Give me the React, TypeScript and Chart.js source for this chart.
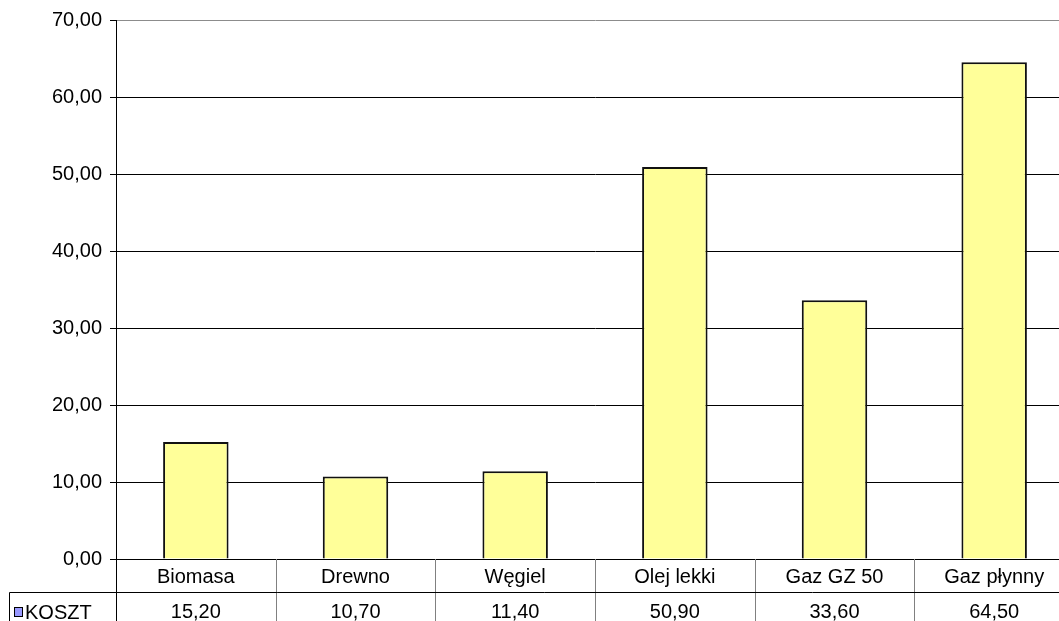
import React, { useEffect, useRef } from "react";
import { Chart, registerables } from "chart.js";

Chart.register(...registerables);

const categories = ["Biomasa", "Drewno", "Węgiel", "Olej lekki", "Gaz GZ 50", "Gaz płynny"];
const seriesName = "KOSZT";
const values = [15.2, 10.7, 11.4, 50.9, 33.6, 64.5];
const yMin = 0;
const yMax = 70;
const yStep = 10;

const FONT = "'Liberation Sans', Arial, sans-serif";
const FONT_SIZE = 20;
const fmt = (v: number) => v.toFixed(2).replace(".", ",");

const tablePlugin = {
  id: "dataTable",
  afterDraw(chart: any) {
    const { ctx, chartArea } = chart;
    const x = chart.scales.x;
    const n = categories.length;
    const w = (chartArea.right - chartArea.left) / n;
    const top = chartArea.bottom;
    const rowLine = top + 33.5;
    const bottom = chart.height;
    ctx.save();
    ctx.lineWidth = 1;
    for (let i = 0; i <= n; i++) {
      const xp = Math.round(chartArea.left + i * w) + 0.5;
      ctx.strokeStyle = i === 0 ? "#000" : "#808080";
      ctx.beginPath();
      ctx.moveTo(xp, top);
      ctx.lineTo(xp, bottom);
      ctx.stroke();
    }
    ctx.strokeStyle = "#000";
    ctx.beginPath();
    ctx.moveTo(9.5, rowLine);
    ctx.lineTo(chart.width, rowLine);
    ctx.stroke();
    ctx.beginPath();
    ctx.moveTo(9.5, rowLine);
    ctx.lineTo(9.5, bottom);
    ctx.stroke();
    ctx.fillStyle = "#000";
    ctx.font = `${FONT_SIZE}px ${FONT}`;
    ctx.textAlign = "center";
    ctx.textBaseline = "alphabetic";
    for (let i = 0; i < n; i++) {
      const cx = x.getPixelForValue(i);
      ctx.fillText(categories[i], cx, top + 24);
      ctx.fillText(fmt(values[i]), cx, rowLine + 25);
    }
    ctx.fillStyle = "#9999FF";
    ctx.fillRect(14, 607, 9, 10);
    ctx.strokeStyle = "#000";
    ctx.strokeRect(14.5, 607.5, 8, 9);
    ctx.fillStyle = "#000";
    ctx.textAlign = "left";
    ctx.fillText(seriesName, 25, rowLine + 26);
    ctx.restore();
  },
};

export default function App() {
  const ref = useRef<HTMLCanvasElement | null>(null);
  useEffect(() => {
    if (!ref.current) return;
    const chart = new Chart(ref.current, {
      type: "bar",
      data: {
        labels: categories,
        datasets: [
          {
            label: seriesName,
            data: values,
            backgroundColor: "#FFFF99",
            borderColor: "#111",
            borderWidth: 2,
            barPercentage: 0.41,
            categoryPercentage: 1,
          },
        ],
      },
      options: {
        animation: false,
        responsive: false,
        devicePixelRatio: 1,
        layout: { padding: { top: 20, right: 6, left: 0, bottom: 0 } },
        plugins: { legend: { display: false }, tooltip: { enabled: false } },
        scales: {
          x: {
            ticks: { display: false },
            grid: { display: false },
            border: { display: false },
            afterFit: (s: any) => {
              s.height = 62;
            },
          },
          y: {
            min: yMin,
            max: yMax,
            ticks: {
              stepSize: yStep,
              color: "#000",
              padding: 8,
              font: { family: FONT, size: FONT_SIZE },
              callback: (v: any) => fmt(Number(v)),
            },
            grid: {
              color: (c: any) => (c.tick && c.tick.value === yMax ? "#8c8c8c" : "#000"),
              tickColor: "#000",
              tickLength: 6,
              lineWidth: 1,
            },
            border: { color: "#000", width: 1 },
            afterFit: (s: any) => {
              s.width = 116;
            },
          },
        },
      },
      plugins: [tablePlugin],
    });
    return () => chart.destroy();
  }, []);
  return (
    <div style={{ position: "fixed", left: 0, top: 0, width: 1059, height: 621, overflow: "hidden", background: "#fff" }}>
      <canvas ref={ref} width={1080} height={621} style={{ display: "block" }} />
    </div>
  );
}
